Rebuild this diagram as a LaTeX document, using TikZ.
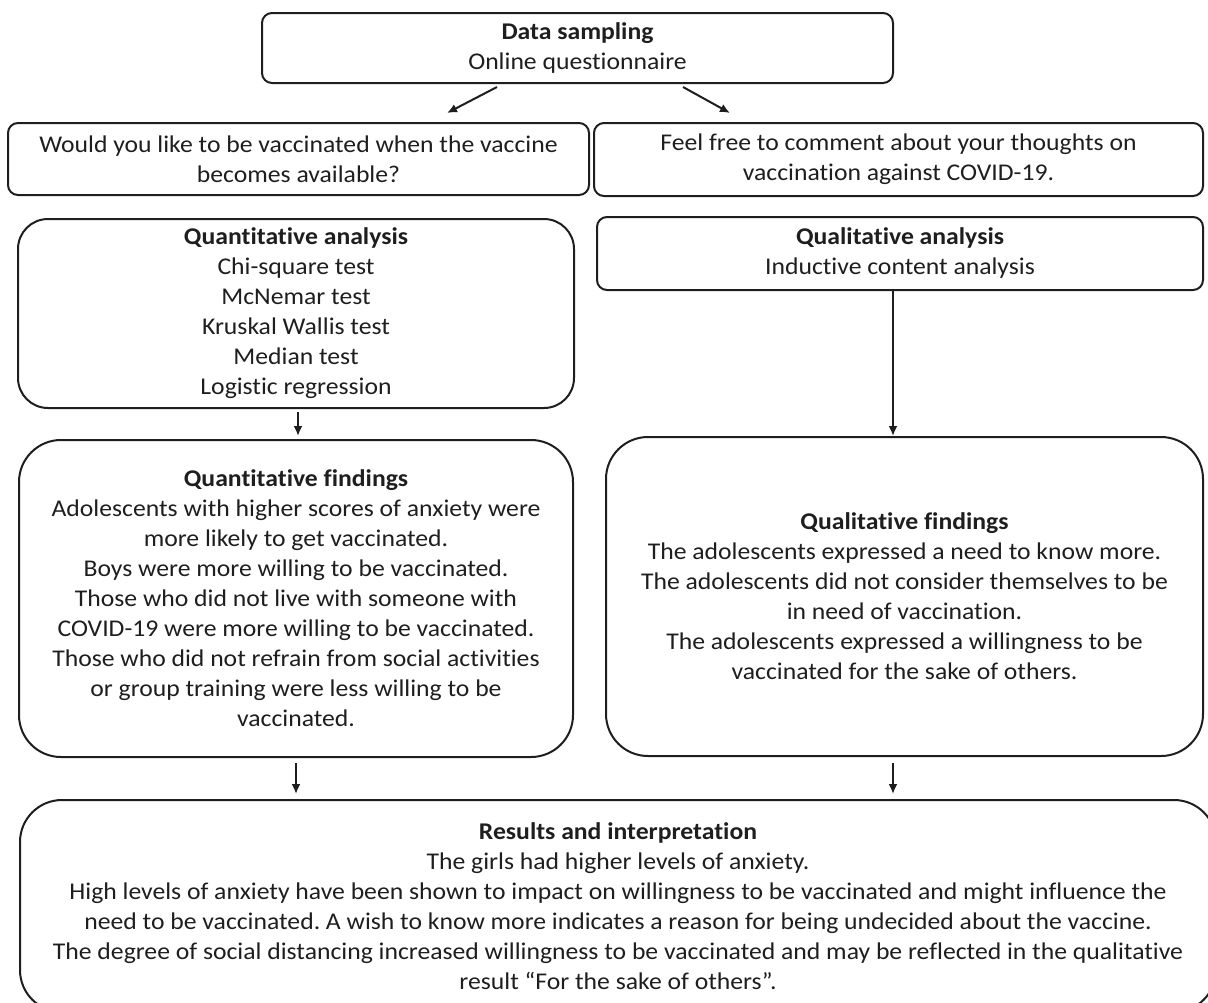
\documentclass[tikz,border=0pt]{standalone}
\usepackage{fontspec}
\setmainfont{Carlito}[FakeStretch=1.07, Ligatures={NoCommon}]
\usetikzlibrary{arrows.meta}
\definecolor{ink}{HTML}{1E1E1E}
\tikzset{
  boxbase/.style={draw=ink, line width=2pt, align=center, inner sep=0pt, text=ink,
    font=\fontsize{24}{30}\selectfont\frenchspacing},
  smallr/.style={boxbase, rounded corners=10pt},
  bigr/.style={boxbase, rounded corners=42pt},
  midr/.style={boxbase, rounded corners=30pt},
  arr/.style={draw=ink, line width=2pt, -{Latex[length=10pt,width=9pt]}}
}
\begin{document}
\begin{tikzpicture}[x=1pt,y=-1pt]
\useasboundingbox (0,0) rectangle (1208,1002);
\clip (0,0) rectangle (1208,1002);
\node[smallr, minimum width=631pt, minimum height=70pt] (ds) at (577.5,48)
  {\textbf{Data sampling}\\Online questionnaire};
\node[smallr, minimum width=581pt, minimum height=72pt] (q1) at (298.5,159)
  {Would you like to be vaccinated when the vaccine\\becomes available?};
\node[smallr, minimum width=609pt, minimum height=73pt] (q2) at (898.5,159.5)
  {Feel free to comment about your thoughts on\\vaccination against COVID-19.};
\node[midr, minimum width=556pt, minimum height=189pt] (qa) at (296,313.5)
  {\textbf{Quantitative analysis}\\Chi-square test\\McNemar test\\Kruskal Wallis test\\Median test\\Logistic regression};
\node[smallr, minimum width=606pt, minimum height=73pt] (qla) at (900,253.5)
  {\textbf{Qualitative analysis}\\Inductive content analysis};
\node[bigr, minimum width=554pt, minimum height=317pt] (qf) at (296,598.5)
  {\textbf{Quantitative findings}\\Adolescents with higher scores of anxiety were\\more likely to get vaccinated.\\Boys were more willing to be vaccinated.\\Those who did not live with someone with\\COVID-19 were more willing to be vaccinated.\\Those who did not refrain from social activities\\or group training were less willing to be\\vaccinated.};
\node[bigr, minimum width=597pt, minimum height=319pt] (qlf) at (904.5,596.5)
  {\textbf{Qualitative findings}\\The adolescents expressed a need to know more.\\The adolescents did not consider themselves to be\\in need of vaccination.\\The adolescents expressed a willingness to be\\vaccinated for the sake of others.};
\node[bigr, minimum width=1196pt, minimum height=212pt] (res) at (618,906)
  {\textbf{Results and interpretation}\\The girls had higher levels of anxiety.\\High levels of anxiety have been shown to impact on willingness to be vaccinated and might influence the\\need to be vaccinated. A wish to know more indicates a reason for being undecided about the vaccine.\\The degree of social distancing increased willingness to be vaccinated and may be reflected in the qualitative\\result “For the sake of others”.};
\draw[arr] ([xshift=-80.5pt,yshift=-3pt]ds.south) -- ([xshift=148.5pt,yshift=9pt]q1.north);
\draw[arr] ([xshift=105.5pt,yshift=-3pt]ds.south) -- ([xshift=-168.5pt,yshift=9pt]q2.north);
\draw[arr] ([xshift=2pt,yshift=-3pt]qa.south) -- ([xshift=2pt,yshift=3pt]qf.north);
\draw[arr] ([xshift=-7pt]qla.south) -- ([xshift=-11.5pt]qlf.north);
\draw[arr] ([yshift=-5pt]qf.south) -- ([xshift=-322pt,yshift=5pt]res.north);
\draw[arr] ([xshift=-11.5pt,yshift=-6pt]qlf.south) -- ([xshift=275pt,yshift=5pt]res.north);
\end{tikzpicture}
\end{document}
